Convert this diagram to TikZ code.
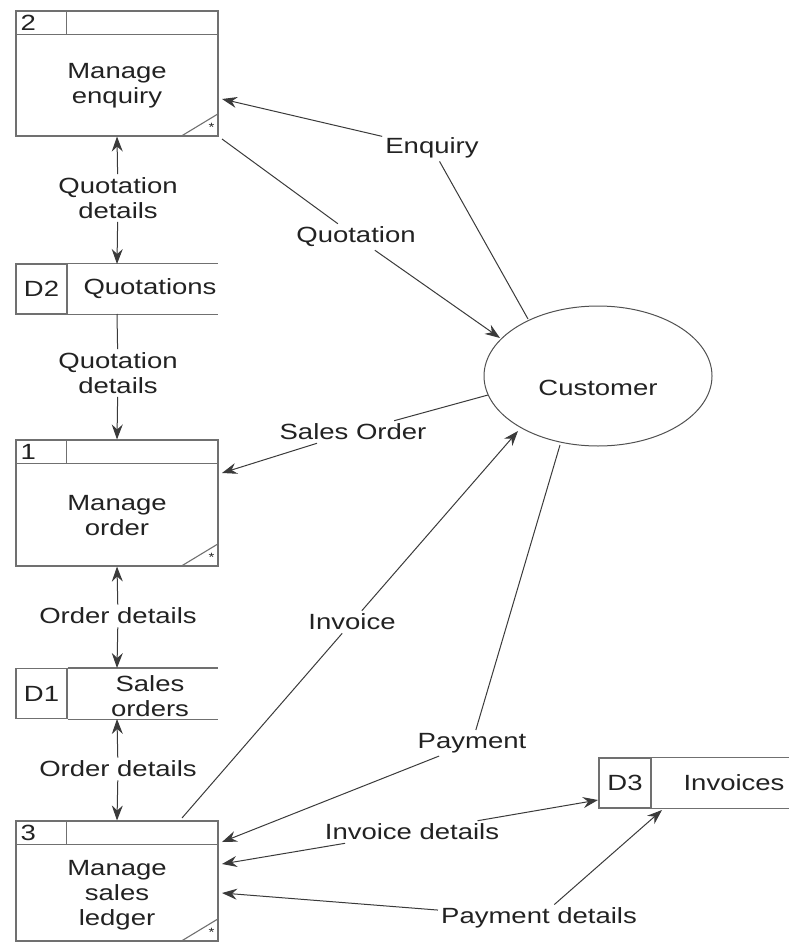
\documentclass[tikz,border=0pt]{standalone}
\usepackage{fontspec}
\setmainfont{Liberation Sans}[FakeStretch=1.25]
\usetikzlibrary{arrows.meta,shapes.geometric}
\definecolor{boxc}{HTML}{707070}
\definecolor{linec}{HTML}{3A3A3A}
\definecolor{ellc}{HTML}{505050}
\definecolor{txt}{HTML}{222222}
\newcommand\ProcBox[4]{% name, center, height, number
  \node[proc, minimum height=#3] (#1) at (#2) {};
  \draw[boxln] ([yshift=-24pt]#1.north west) -- ([yshift=-24pt]#1.north east);
  \draw[boxln] ([xshift=51pt]#1.north west) -- ([xshift=51pt,yshift=-24pt]#1.north west);
  \draw[boxln] ([xshift=-38pt]#1.south east) -- ([yshift=23pt]#1.south east);
  \node[font=\fontsize{12}{12}\selectfont, inner sep=0pt] (#1s) at ([xshift=-7pt,yshift=9pt]#1.south east) {*};
  \node[anchor=west, inner sep=0pt] (#1n) at ([xshift=5pt,yshift=-12pt]#1.north west) {#4};
}
\newcommand\StoreBox[3]{% name, center of id cell, id
  \node[boxln, rectangle, minimum width=51pt, minimum height=50pt, inner sep=0pt] (#1) at (#2) {#3};
  \draw[boxln] (#1.north east) -- ++(150,0);
  \draw[boxln] (#1.south east) -- ++(150,0);
}
\begin{document}
\begin{tikzpicture}[x=1pt,y=-1pt,
  every node/.style={font=\fontsize{22}{25}\selectfont, text=txt},
  boxln/.style={draw=boxc, line width=1.1pt},
  proc/.style={boxln, rectangle, minimum width=202pt, inner sep=0pt},
  flow/.style={draw=linec, line width=1pt},
  lbl/.style={fill=white, inner sep=3pt, align=center},
  >={Stealth[length=15pt,width=11pt,inset=5pt]}
]
\useasboundingbox (0,0) rectangle (789,944);

% process boxes
\ProcBox{b2}{117,73.5}{125pt}{2}
\node[align=center] (b2t) at (117,86) {Manage\\enquiry};
\ProcBox{b1}{117,503}{126pt}{1}
\node[align=center] (b1t) at (117,516) {Manage\\order};
\ProcBox{b3}{117,881}{120pt}{3}
\node[align=center] (b3t) at (117,895) {Manage\\sales\\ledger};

% data stores
\StoreBox{d2}{41.5,289}{D2}
\node (d2t) at (150,289) {Quotations};
\StoreBox{d1}{41.5,693.5}{D1}
\node[align=center] (d1t) at (150,696) {Sales\\orders};
\node[boxln, rectangle, minimum width=52pt, minimum height=50pt, inner sep=0pt] (d3) at (625,783) {D3};
\draw[boxln] (d3.north east) -- ++(137,0);
\draw[boxln] (d3.south east) -- ++(137,0);
\node (d3t) at (734,783) {Invoices};

% external entity
\node[draw=ellc, line width=1pt, ellipse, minimum width=228pt, minimum height=140pt, inner sep=0pt] (cust) at (598,376) {};
\node (custt) at (598,388) {Customer};

% connector end points
\coordinate (d2top) at (117,264);
\coordinate (d2bot) at (117,314);
\coordinate (d1top) at (117,668);
\coordinate (d1bot) at (117,719);
\coordinate (enqA) at (528,319);
\coordinate (enqB) at (222,99);
\coordinate (quoA) at (222,139);
\coordinate (quoB) at (500,338);
\coordinate (soA) at (488,395);
\coordinate (soB) at (222,473);
\coordinate (invA) at (182,818);
\coordinate (invB) at (518,431);
\coordinate (payA) at (560,445);
\coordinate (payB) at (222,842);
\coordinate (idA) at (222,864);
\coordinate (idB) at (598,800);
\coordinate (pdA) at (222,893);
\coordinate (pdB) at (662,810);

% labels
\node[lbl] (qd1) at (118,198) {Quotation\\details};
\node[lbl] (qd2) at (118,373) {Quotation\\details};
\node[lbl] (od1) at (118,616) {Order details};
\node[lbl] (od2) at (118,769) {Order details};
\node[lbl] (enq) at (432,148) {Enquiry};
\node[lbl] (quo) at (356,237) {Quotation};
\node[lbl] (so) at (353,432) {Sales Order};
\node[lbl] (inv) at (352,622) {Invoice};
\node[lbl] (pay) at (472,743) {Payment};
\node[lbl] (idt) at (412,832) {Invoice details};
\node[lbl] (pdt) at (539,918) {Payment details};

% flows
\draw[flow,<-] (b2.south) -- (qd1);
\draw[flow,->] (qd1) -- (d2top);
\draw[flow] (d2bot) -- (qd2);
\draw[flow,->] (qd2) -- (b1.north);
\draw[flow,<-] (b1.south) -- (od1);
\draw[flow,->] (od1) -- (d1top);
\draw[flow,<-] (d1bot) -- (od2);
\draw[flow,->] (od2) -- (b3.north);
\draw[flow] (enqA) -- (enq);
\draw[flow,->] (enq) -- (enqB);
\draw[flow] (quoA) -- (quo);
\draw[flow,->] (quo) -- (quoB);
\draw[flow] (soA) -- (so);
\draw[flow,->] (so) -- (soB);
\draw[flow] (invA) -- (inv);
\draw[flow,->] (inv) -- (invB);
\draw[flow] (payA) -- (pay);
\draw[flow,->] (pay) -- (payB);
\draw[flow,<-] (idA) -- (idt);
\draw[flow,->] (idt) -- (idB);
\draw[flow,<-] (pdA) -- (pdt);
\draw[flow,->] (pdt) -- (pdB);
\end{tikzpicture}
\end{document}
